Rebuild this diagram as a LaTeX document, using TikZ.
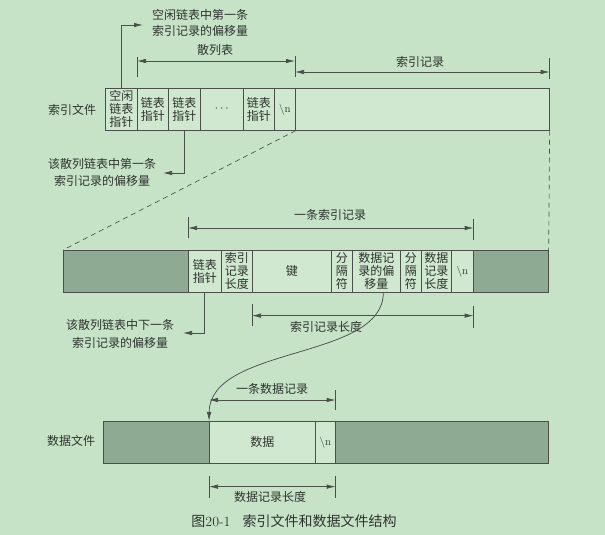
\documentclass[tikz,border=0pt]{standalone}
\usepackage{fontspec}
\newfontfamily\cjk{Noto Sans CJK SC}
\usetikzlibrary{arrows.meta,calc}
\definecolor{bgc}{HTML}{C6E3C8}
\definecolor{cellc}{HTML}{CFE8CF}
\definecolor{grayf}{HTML}{8FAA93}
\definecolor{linec}{HTML}{4A4F4A}
\definecolor{txtc}{HTML}{2E332E}
\begin{document}
\begin{tikzpicture}[x=1pt,y=-1pt,
 cell/.style={draw=linec, line width=0.65pt, fill=cellc, anchor=north west, inner sep=0pt,
   minimum height=42pt, align=center, font=\cjk\fontsize{12}{13}\selectfont, text=txtc},
 graycell/.style={cell, fill=grayf},
 lbl/.style={font=\cjk\fontsize{12}{17}\selectfont, text=txtc, align=center, inner sep=0pt},
 arr/.style={draw=linec, line width=0.75pt, -{Latex[length=9pt,width=4.5pt]}},
 darr/.style={draw=linec, line width=0.75pt, {Latex[length=9pt,width=4.5pt]}-{Latex[length=9pt,width=4.5pt]}},
 tickline/.style={draw=linec, line width=0.75pt},
 dsh/.style={draw=linec, line width=0.65pt, dash pattern=on 5pt off 4pt}]
\useasboundingbox[fill=bgc] (0,0) rectangle (605,535);

% ---------- index file row ----------
\node[lbl] (lidx) at (72,110) {索引文件};
\node[cell, minimum width=32pt] (idxfree) at (105,88) {空闲\\链表\\指针};
\node[cell, minimum width=31pt] (p1) at (137,88) {链表\\指针};
\node[cell, minimum width=32pt] (p2) at (168,88) {链表\\指针};
\node[cell, minimum width=43pt, font=\fontsize{12}{13}\selectfont] (dots) at (200,88) {$\cdots$};
\node[cell, minimum width=31pt] (p3) at (243,88) {链表\\指针};
\node[cell, minimum width=21pt, font=\fontsize{11}{13}\selectfont] (nl1) at (274,88) {\textbackslash n};
\node[cell, minimum width=254pt] (rec) at (295,88) {};

% free list pointer
\node[lbl, font=\cjk\fontsize{12}{16}\selectfont] (lfree) at (200,23) {空闲链表中第一条\\索引记录的偏移量};
\coordinate (cfree) at (143,25);
\draw[arr] (idxfree.north) |- (cfree);

% hash chain pointer
\node[lbl] (lhash) at (102,172) {该散列链表中第一条\\索引记录的偏移量};
\coordinate (chash) at (163,173);
\draw[arr] (p2.south) |- (chash);

% hash table / index records dimensions
\draw[tickline] ($(p1.north west)+(0,-11)$) -- ($(p1.north west)+(0,-31)$);
\draw[tickline] ($(rec.north west)+(0,-11)$) -- ($(rec.north west)+(0,-32)$);
\draw[tickline] ($(rec.north east)+(0,-9)$) -- ($(rec.north east)+(0,-30)$);
\draw[darr] ($(p1.north west)+(0,-27)$) -- ($(rec.north west)+(0,-27)$);
\node[lbl] (lhtab) at (215,50) {散列表};
\draw[darr] ($(rec.north west)+(0,-16)$) -- ($(rec.north east)+(0,-16)$);
\node[lbl] (lrec) at (420,62) {索引记录};

% ---------- expanded index record row ----------
\node[graycell, minimum width=125pt] (gL) at (63,250) {};
\node[cell, minimum width=33pt] (m1) at (188,250) {链表\\指针};
\node[cell, minimum width=31pt] (m2) at (221,250) {索引\\记录\\长度};
\node[cell, minimum width=79pt] (m3) at (252,250) {键};
\node[cell, minimum width=21pt] (m4) at (331,250) {分\\隔\\符};
\node[cell, minimum width=48pt] (m5) at (352,250) {数据记\\录的偏\\移量};
\node[cell, minimum width=21pt] (m6) at (400,250) {分\\隔\\符};
\node[cell, minimum width=30pt] (m7) at (421,250) {数据\\记录\\长度};
\node[cell, minimum width=22pt, font=\fontsize{11}{13}\selectfont] (m8) at (451,250) {\textbackslash n};
\node[graycell, minimum width=75pt] (gR) at (473,250) {};

% zoom dashed lines
\draw[dsh] (nl1.south east) -- (gL.north west);
\draw[dsh] (rec.south east) -- (gR.north east);

% one index record dimension
\draw[tickline] ($(m1.north west)+(0,-12)$) -- ($(m1.north west)+(0,-33)$);
\draw[tickline] ($(m8.north east)+(0,-10)$) -- ($(m8.north east)+(0,-31)$);
\draw[darr] ($(m1.north west)+(0,-22)$) -- ($(m8.north east)+(0,-22)$);
\node[lbl] (lone) at (330,215) {一条索引记录};

% index record length dimension
\draw[tickline] ($(m3.south west)+(0,11)$) -- ($(m3.south west)+(0,33)$);
\draw[tickline] ($(m8.south east)+(0,13)$) -- ($(m8.south east)+(0,35)$);
\draw[darr] ($(m3.south west)+(0,23)$) -- ($(m8.south east)+(0,23)$);
\node[lbl] (lrlen) at (326,327) {索引记录长度};

% next pointer
\node[lbl, font=\cjk\fontsize{12}{18}\selectfont] (lnext) at (120,334) {该散列链表中下一条\\索引记录的偏移量};
\coordinate (cnext) at (183,333);
\draw[arr] (m1.south) |- (cnext);

% ---------- data file row ----------
\node[lbl] (ldat) at (71,441) {数据文件};
\node[graycell, minimum width=106pt] (bL) at (103,421) {};
\node[cell, minimum width=106pt] (bd) at (209,421) {数据};
\node[cell, minimum width=20pt, font=\fontsize{11}{13}\selectfont] (bn) at (315,421) {\textbackslash n};
\node[graycell, minimum width=213pt] (bR) at (335,421) {};

% offset curve
\draw[arr] ($(m5.south)+(7,0)$) .. controls ($(m5.south)+(7,68)$) and (210,345) .. (bd.north west);

% one data record dimension
\draw[tickline] ($(bn.north east)+(0,-11)$) -- ($(bn.north east)+(0,-31)$);
\draw[darr] ($(bd.north west)+(0,-21)$) -- ($(bn.north east)+(0,-21)$);
\node[lbl] (ldone) at (272,389) {一条数据记录};

% data record length dimension
\draw[tickline] ($(bd.south west)+(0,12)$) -- ($(bd.south west)+(0,34)$);
\draw[tickline] ($(bn.south east)+(0,12)$) -- ($(bn.south east)+(0,34)$);
\draw[darr] ($(bd.south west)+(0,23)$) -- ($(bn.south east)+(0,23)$);
\node[lbl] (ldlen) at (270,497) {数据记录长度};

% caption
\node[lbl, font=\fontsize{14}{16}\selectfont] (cap) at (294,521) {{\cjk 图}20-1\hspace{12pt}{\cjk 索引文件和数据文件结构}};
\end{tikzpicture}
\end{document}
